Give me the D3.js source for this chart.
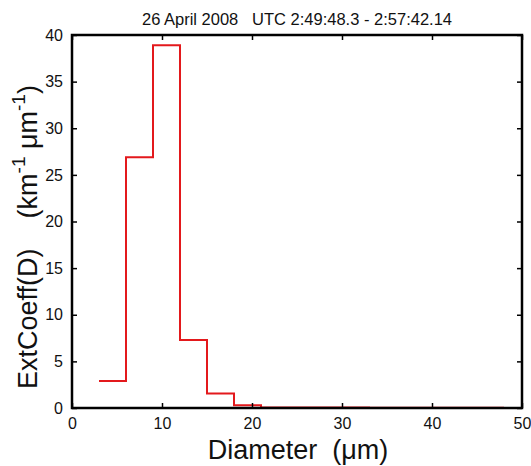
<!DOCTYPE html>
<html>
<head>
<meta charset="utf-8">
<script src="https://cdn.jsdelivr.net/npm/d3@7"></script>
<style>
  html, body { margin: 0; padding: 0; background: #fff; }
  svg { display: block; font-family: "Liberation Sans", Arial, sans-serif; }
</style>
</head>
<body>
<svg id="chart" width="531" height="466"></svg>
<script>
// Size-bin edges (µm) and extinction coefficient per bin (km^-1 µm^-1)
const binEdges = [3, 6, 9, 12, 15, 18, 21, 24, 27, 30, 33, 36, 39, 42, 45, 48];
const extCoeff = [2.9, 26.9, 38.9, 7.3, 1.55, 0.3, 0.06, 0.05, 0.05, 0.05, 0.04, 0.04, 0.04, 0.03, 0.03];
const xTicks = [0, 10, 20, 30, 40, 50];
const yTicks = [0, 5, 10, 15, 20, 25, 30, 35, 40];
const titleText = "26 April 2008\u00a0\u00a0\u00a0UTC 2:49:48.3 - 2:57:42.14";

(function draw() {
  const svg = d3.select("#chart");
  const mLeft = 72, mRight = 522, mTop = 35, mBottom = 408;

  const x = d3.scaleLinear().domain([0, 50]).range([mLeft, mRight]);
  const y = d3.scaleLinear().domain([0, 40]).range([mBottom, mTop]);

  // Stepped outline through the bins
  const pts = [];
  extCoeff.forEach((v, i) => {
    pts.push([binEdges[i], v]);
    pts.push([binEdges[i + 1], v]);
  });
  const line = d3.line().x(d => x(d[0])).y(d => y(d[1]));
  svg.append("path")
    .attr("d", line(pts))
    .attr("fill", "none")
    .attr("stroke", "#e3191c")
    .attr("stroke-width", 2)
    .attr("stroke-linejoin", "miter");

  // Axes with inward ticks on all four sides
  const tickLen = 5;
  const axisStyle = g => {
    g.select(".domain").remove();
    g.selectAll(".tick line").attr("stroke", "#000").attr("stroke-width", 1.5);
  };
  const labelStyle = g => g.selectAll("text")
    .attr("font-size", 16).attr("fill", "#111")
    .attr("font-family", "Liberation Sans, Arial, sans-serif");

  svg.append("g").attr("transform", `translate(0,${mBottom})`)
    .call(d3.axisBottom(x).tickValues(xTicks).tickSizeInner(-tickLen).tickSizeOuter(0).tickPadding(10))
    .call(axisStyle).call(labelStyle);
  svg.append("g").attr("transform", `translate(0,${mTop})`)
    .call(d3.axisTop(x).tickValues(xTicks).tickSizeInner(-tickLen).tickSizeOuter(0).tickFormat(""))
    .call(axisStyle);
  svg.append("g").attr("transform", `translate(${mLeft},0)`)
    .call(d3.axisLeft(y).tickValues(yTicks).tickSizeInner(-tickLen).tickSizeOuter(0).tickPadding(9))
    .call(axisStyle).call(labelStyle);
  svg.append("g").attr("transform", `translate(${mRight},0)`)
    .call(d3.axisRight(y).tickValues(yTicks).tickSizeInner(-tickLen).tickSizeOuter(0).tickFormat(""))
    .call(axisStyle);

  // Frame
  svg.append("rect")
    .attr("x", mLeft).attr("y", mTop)
    .attr("width", mRight - mLeft).attr("height", mBottom - mTop)
    .attr("fill", "none").attr("stroke", "#000").attr("stroke-width", 2.5);

  // Title
  svg.append("text")
    .attr("x", 297).attr("y", 25)
    .attr("text-anchor", "middle")
    .attr("font-size", 16.5).attr("fill", "#111")
    .text(titleText);

  // X label
  svg.append("text")
    .attr("x", 298).attr("y", 459)
    .attr("text-anchor", "middle")
    .attr("font-size", 27).attr("fill", "#111")
    .text("Diameter\u00a0\u00a0(\u03bcm)");

  // Y label with superscripts
  const yl = svg.append("text")
    .attr("transform", "translate(37,237) rotate(-90)")
    .attr("text-anchor", "middle")
    .attr("font-size", 27).attr("fill", "#111");
  yl.append("tspan").text("ExtCoeff(D)\u00a0\u00a0\u00a0\u00a0(km");
  yl.append("tspan").attr("dy", -12).attr("font-size", 19).text("-1");
  yl.append("tspan").attr("dy", 12).text("\u00a0\u03bcm");
  yl.append("tspan").attr("dy", -12).attr("font-size", 19).text("-1");
  yl.append("tspan").attr("dy", 12).text(")");
})();
</script>
</body>
</html>
